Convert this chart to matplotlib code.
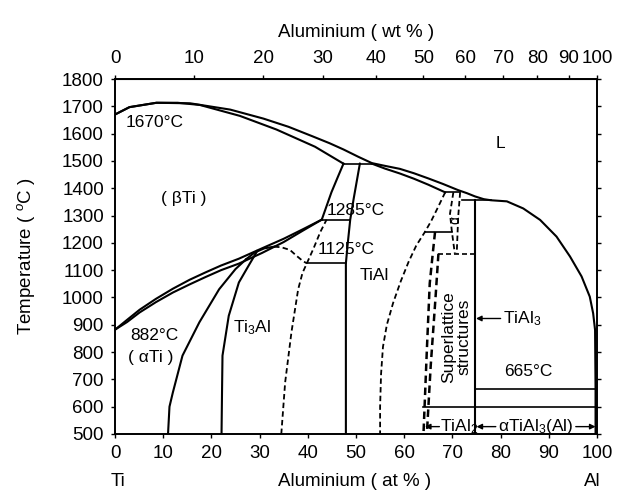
import numpy as np
import matplotlib.pyplot as plt

plt.rcParams['font.family'] = ['Liberation Sans', 'DejaVu Sans']
plt.rcParams['mathtext.fontset'] = 'custom'
plt.rcParams['mathtext.rm'] = 'Liberation Sans'
plt.rcParams['mathtext.it'] = 'Liberation Sans:italic'

# phase boundaries as (at% Al, temperature in C)
liquidus = [(0, 1670), (3, 1697), (8.6, 1713), (15.6, 1711), (23.9, 1688), (30.8, 1655),
            (36, 1625), (41, 1590), (44.5, 1565), (47.4, 1542), (50.5, 1515), (53.3, 1492),
            (56, 1482), (59.1, 1471), (62, 1455), (65, 1436), (68, 1416), (71.2, 1393),
            (73, 1382), (74.7, 1370), (76.5, 1360), (78, 1356), (81.3, 1352), (84.7, 1326),
            (88.2, 1284), (91.6, 1223), (94.4, 1150), (96.8, 1077), (98.5, 1003),
            (99.2, 942), (99.6, 881), (99.7, 665), (99.7, 500)]
beta_solidus = [(0, 1670), (3, 1697), (8.6, 1713), (13, 1713), (17.6, 1705), (25.9, 1665),
                (33.5, 1615), (41.5, 1552), (47.4, 1490)]
gamma_solidus = [(53.3, 1490), (56, 1472), (59.1, 1454), (62, 1435), (65, 1413), (68.5, 1385)]
beta_alpha = [(47.4, 1490), (46.2, 1440), (44.9, 1385), (43.8, 1330), (42.9, 1285)]
gamma_left = [(50.8, 1490), (50.2, 1430), (49.5, 1360), (48.8, 1285), (48.3, 1200),
              (47.9, 1125), (47.9, 500)]
transus_upper = [(0, 882), (2.5, 918), (5.1, 955), (8.5, 995), (12, 1032), (15.5, 1065),
                 (18.8, 1092), (22, 1117), (25.7, 1142), (30.5, 1180), (35, 1215),
                 (39, 1250), (42.9, 1285)]
transus_lower = [(0, 882), (2.5, 910), (5.1, 945), (8.5, 983), (12, 1018), (15.5, 1048),
                 (18.8, 1075), (22, 1100), (25.7, 1124), (30.5, 1163), (35, 1203),
                 (39, 1245), (42.9, 1285)]
ti3al_left = [(11, 500), (11.3, 600), (12, 652), (14, 787), (17.5, 909), (21.6, 1030),
              (25, 1104), (27.2, 1140)]
ti3al_right = [(22.1, 500), (22.2, 650), (22.3, 787), (23.6, 933), (25.7, 1055),
               (27.7, 1116), (29.5, 1170)]
dome_solid = [(27.2, 1140), (29, 1165), (31, 1180), (33, 1186)]
dome_dashed = [(33, 1186), (34.5, 1184), (36.3, 1174), (37.7, 1152), (39, 1133), (39.8, 1125)]
ti3al_dashed = [(34.5, 500), (35.3, 689), (36.6, 872), (38, 1030), (38.9, 1090), (39.8, 1125)]
eutectoid_dashed = [(39.8, 1125), (41.2, 1180), (42.6, 1240), (43.9, 1285)]
gamma_right = [(68.5, 1385), (67, 1330), (65.6, 1280), (64.3, 1240), (62.5, 1190),
               (60.9, 1130), (59.3, 1060), (57.7, 980), (56.4, 900), (55.6, 820),
               (55.2, 720), (55, 600), (55, 500)]
lens_left = [(70.2, 1385), (69.5, 1307), (69.9, 1240), (70.5, 1161)]
lens_right = [(71.6, 1385), (71.2, 1295), (70.9, 1161)]
ti2al5_a = [(66.4, 1240), (66, 1174), (65.3, 1052), (64.7, 808), (64.0, 500)]
ti2al5_b = [(67.1, 1160), (66.5, 1000), (65.5, 750), (64.7, 500)]
tial3_line = [(74.7, 1356), (74.7, 500)]

# isotherms: (start at%, end at%, temperature)
solid_isotherms = [(47.4, 53.3, 1490), (42.9, 48.8, 1285), (39.8, 47.9, 1125),
                   (68.5, 71.6, 1385), (64.3, 69.9, 1240), (72.0, 78.0, 1356),
                   (74.7, 99.7, 665), (64.0, 100, 600)]
dashed_isotherms = [(67.1, 74.7, 1160)]

temp_ticks = list(range(500, 1801, 100))
at_ticks = list(range(0, 101, 10))
wt_ticks = list(range(0, 101, 10))

M_AL, M_TI = 26.98, 47.87


def at2wt(a):
    a = np.clip(np.asarray(a, dtype=float), 0, 100)
    return 100 * a * M_AL / (a * M_AL + (100 - a) * M_TI)


def wt2at(w):
    w = np.clip(np.asarray(w, dtype=float), 0, 100)
    return 100 * (w / M_AL) / (w / M_AL + (100 - w) / M_TI)


fig = plt.figure(figsize=(6.2, 4.96), dpi=100)
ax = fig.add_axes([0.1855, 0.125, 0.7774, 0.7157])

DASH = (0, (3, 1.8))


def draw(pts, dashed=False, lw=1.5):
    a, t = zip(*pts)
    ax.plot(a, t, color='k', lw=lw, ls=DASH if dashed else '-')


for c in [liquidus, beta_solidus, gamma_solidus, beta_alpha, gamma_left, transus_upper,
          transus_lower, ti3al_left, ti3al_right, dome_solid, tial3_line]:
    draw(c)
for c in [dome_dashed, ti3al_dashed, eutectoid_dashed, gamma_right, lens_left,
          lens_right]:
    draw(c, dashed=True, lw=1.3)
for c in [ti2al5_a, ti2al5_b]:
    draw(c, dashed=True, lw=1.8)
for a0, a1, t in solid_isotherms:
    ax.plot([a0, a1], [t, t], color='k', lw=1.2)
for a0, a1, t in dashed_isotherms:
    ax.plot([a0, a1], [t, t], color='k', lw=1.2, ls=DASH)

fs = 12.5
ax.text(2.1, 1641, '1670°C', fontsize=fs, va='center')
ax.text(14.3, 1364, '( βTi )', fontsize=fs, va='center', ha='center')
ax.text(79.9, 1563, 'L', fontsize=fs, va='center', ha='center')
ax.text(43.9, 1320, '1285°C', fontsize=fs, va='center')
ax.text(42.1, 1174, '1125°C', fontsize=fs, va='center')
ax.text(50.8, 1080, 'TiAl', fontsize=fs, va='center')
ax.text(70.6, 1284, 'α', fontsize=10, va='center', ha='center', rotation=90)
ax.text(3.1, 862, '882°C', fontsize=fs, va='center')
ax.text(2.7, 780, '( αTi )', fontsize=fs, va='center')
ax.text(24.5, 888, 'Ti$_3$Al', fontsize=fs, va='center')
ax.text(70.8, 856, 'Superlattice\nstructures', fontsize=fs, va='center', ha='center',
        rotation=90, linespacing=1.0)
ax.text(85.8, 730, '665°C', fontsize=fs, va='center', ha='center')

arrow = dict(arrowstyle='-|>', lw=1, color='k', mutation_scale=8, shrinkA=0, shrinkB=0)
ax.annotate('', xy=(74.9, 923), xytext=(80, 923), arrowprops=arrow)
ax.text(80.5, 923, 'TiAl$_3$', fontsize=fs, va='center')
ax.annotate('', xy=(64.3, 527), xytext=(67.3, 527), arrowprops=arrow)
ax.text(67.5, 527, 'TiAl$_2$', fontsize=fs, va='center')
ax.annotate('', xy=(75.0, 527), xytext=(79.0, 527), arrowprops=arrow)
ax.text(87.3, 527, 'αTiAl$_3$(Al)', fontsize=fs, va='center', ha='center')
ax.annotate('', xy=(99.7, 527), xytext=(95.6, 527), arrowprops=arrow)

ax.set_xlim(0, 100)
ax.set_ylim(500, 1800)
ax.set_xticks(at_ticks)
ax.set_yticks(temp_ticks)
ax.tick_params(labelsize=13.5, length=3, width=1, pad=5, direction='out', right=True)
for s in ax.spines.values():
    s.set_linewidth(1.4)
ax.set_ylabel('Temperature ( $^{o}$C )', fontsize=13.5, labelpad=18)

sec = ax.secondary_xaxis('top', functions=(at2wt, wt2at))
sec.set_xticks(wt_ticks)
sec.tick_params(labelsize=13.5, length=3, width=1, pad=6, direction='out')
sec.set_xlabel('Aluminium ( wt % )', fontsize=13.5, labelpad=9)

tr = ax.get_xaxis_transform()
ax.text(0.6, -0.135, 'Ti', fontsize=13.5, ha='center', va='center', transform=tr)
ax.text(49.6, -0.135, 'Aluminium ( at % )', fontsize=13.5, ha='center', va='center',
        transform=tr)
ax.text(99, -0.135, 'Al', fontsize=13.5, ha='center', va='center', transform=tr)

fig.savefig('out.png', dpi=100)
